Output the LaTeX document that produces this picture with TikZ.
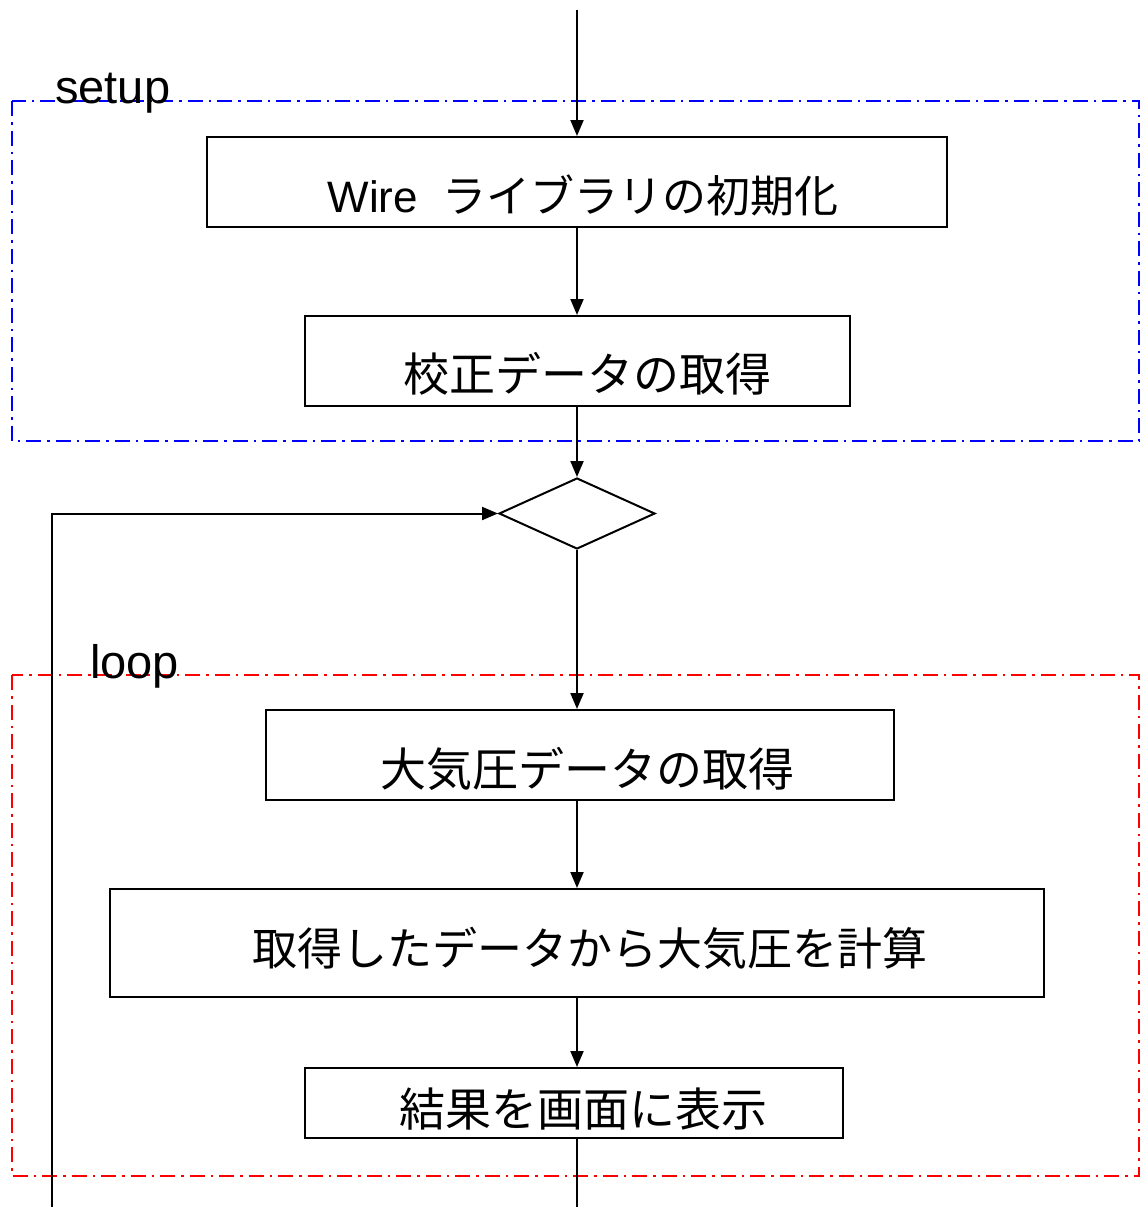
\documentclass[tikz,border=0pt]{standalone}
\usepackage{fontspec}
\setmainfont{Liberation Sans}
\newfontfamily\cjk{Noto Sans CJK JP}
\usetikzlibrary{arrows.meta,shapes.geometric}
\begin{document}
\begin{tikzpicture}[x=1pt,y=-1pt,
  procbox/.style={draw=black,line width=2pt,rectangle,inner sep=0pt},
  boxtext/.style={inner sep=0pt,font=\fontsize{46}{50}\selectfont},
  grplabel/.style={inner sep=0pt,anchor=base west,font=\fontsize{47}{50}\selectfont},
  flow/.style={line width=2pt,-{Triangle[length=16pt,width=13pt]}},
  plain/.style={line width=2pt},
  dashdot/.style={line width=2pt,dash pattern=on 15pt off 6pt on 2.5pt off 6pt},
]
\useasboundingbox (0,0) rectangle (1141,1207);
% group frames
\draw[dashdot,draw=blue] (12,101) rectangle (1139,441);
\draw[dashdot,draw=red] (12,675) rectangle (1139,1176);
\node[grplabel] (setuplbl) at (55,103) {setup};
\node[grplabel] (looplbl) at (90,678) {loop};
% boxes
\node[procbox,minimum width=740pt,minimum height=90pt] (b1) at (577,182) {};
\node[procbox,minimum width=545pt,minimum height=90pt] (b2) at (577.5,361) {};
\node[diamond,draw=black,line width=2pt,inner sep=0pt,minimum width=156pt,minimum height=71pt] (dia) at (577,513.5) {};
\node[procbox,minimum width=628pt,minimum height=90pt] (b3) at (580,755) {};
\node[procbox,minimum width=934pt,minimum height=108pt] (b4) at (577,943) {};
\node[procbox,minimum width=538pt,minimum height=70pt] (b5) at (574,1103) {};
% texts
\node[boxtext,font=\fontsize{44}{48}\selectfont] (t1) at (583,195) {Wire\ \ {\cjk ライブラリの初期化}};
\node[boxtext] (t2) at (587,374) {\cjk 校正データの取得};
\node[boxtext] (t3) at (587,769) {\cjk 大気圧データの取得};
\node[boxtext,font=\fontsize{45}{50}\selectfont] (t4) at (590,948) {\cjk 取得したデータから大気圧を計算};
\node[boxtext] (t5) at (583,1109) {\cjk 結果を画面に表示};
% connectors
\coordinate (top) at (577,10);
\coordinate (bot) at (577,1207);
\coordinate (lb) at (52,1207);
\draw[flow] (top) -- (b1.north);
\draw[flow] (b1.south) -- (b2.north -| b1.south);
\draw[flow] (b2.south -| dia.north) -- (dia.north);
\draw[flow] (dia.south) -- (b3.north -| dia.south);
\draw[flow] (b3.south -| b4.north) -- (b4.north);
\draw[flow] (b4.south) -- (b5.north -| b4.south);
\draw[plain] (b5.south -| bot) -- (bot);
\draw[flow] (lb) |- (dia.west);
\end{tikzpicture}
\end{document}
